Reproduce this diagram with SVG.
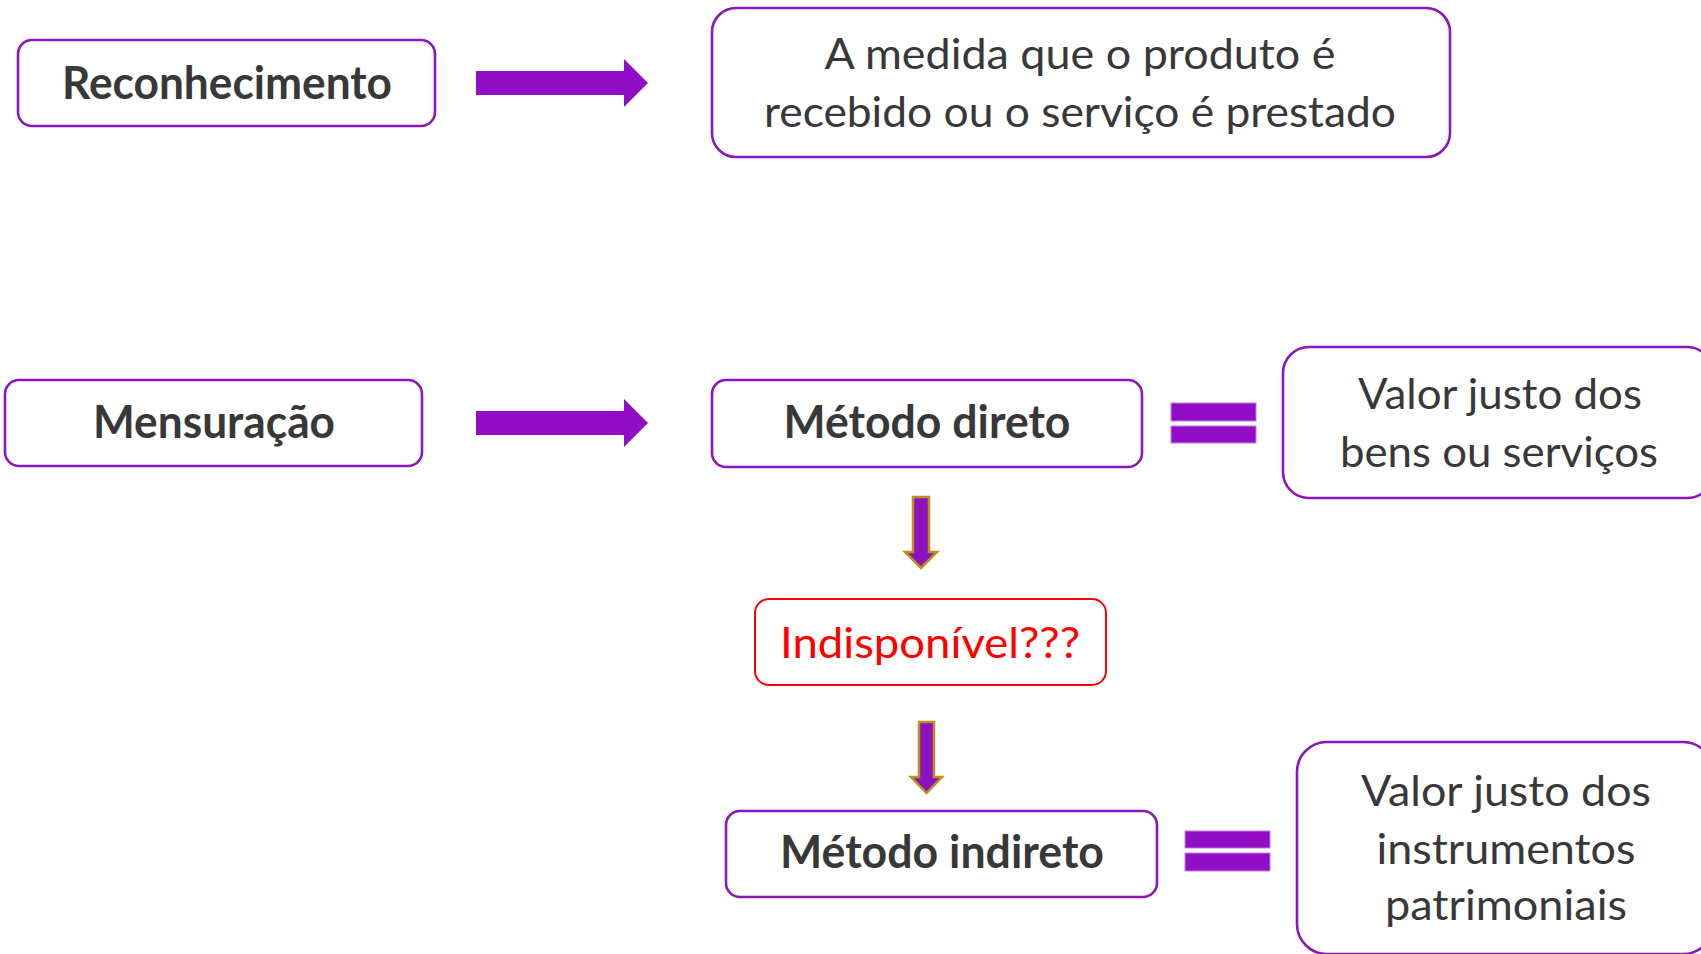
<svg xmlns="http://www.w3.org/2000/svg" width="1701" height="954" viewBox="0 0 1701 954">
<defs>
<style>
.box{fill:#fff;stroke:#8A17B8;stroke-width:2.6}
.red{fill:#fff;stroke:#FF0000;stroke-width:2}
.t{font-family:Lato,"Liberation Sans",sans-serif;fill:#383838;text-anchor:middle}
.b{font-weight:bold;font-size:45px}
.r{font-size:42px}
.arr{fill:#920DC6}
.darr{fill:#8C12BE;stroke:#BF8F1A;stroke-width:2.5}
.eq{fill:#920DC6;stroke:#C07FE0;stroke-width:1}
</style>
</defs>
<g id="connectors">
<path class="arr" d="M476,71 H624 V59 L648,83 L624,107 V95 H476 Z"/>
<path class="arr" d="M476,411 H624 V399 L648,423 L624,447 V435 H476 Z"/>
<path class="darr" d="M913,497 H929 V552 H937 L921,568 L905,552 H913 Z"/>
<path class="darr" d="M919,722 H934 V777 H942 L926.5,793 L911,777 H919 Z"/>
<rect class="eq" x="1171" y="403" width="85" height="18"/>
<rect class="eq" x="1171" y="426" width="85" height="17"/>
<rect class="eq" x="1185" y="831" width="85" height="17"/>
<rect class="eq" x="1185" y="853" width="85" height="18"/>
</g>
<g id="reconhecimento">
<rect class="box" x="18" y="40" width="417" height="86" rx="14"/>
<text class="t b" x="227" y="99" textLength="330" lengthAdjust="spacingAndGlyphs">Reconhecimento</text>
</g>
<g id="medida">
<rect class="box" x="712" y="8" width="738" height="149" rx="24"/>
<text class="t r" x="1080" y="69" textLength="511" lengthAdjust="spacingAndGlyphs">A medida que o produto é</text>
<text class="t r" x="1080" y="127" textLength="632" lengthAdjust="spacingAndGlyphs">recebido ou o serviço é prestado</text>
</g>
<g id="mensuracao">
<rect class="box" x="5" y="380" width="417" height="86" rx="14"/>
<text class="t b" x="214" y="438" textLength="242" lengthAdjust="spacingAndGlyphs">Mensuração</text>
</g>
<g id="metodo-direto">
<rect class="box" x="712" y="380" width="430" height="87" rx="14"/>
<text class="t b" x="927" y="438" textLength="287" lengthAdjust="spacingAndGlyphs">Método direto</text>
</g>
<g id="valor-bens">
<rect class="box" x="1283" y="347" width="430" height="151" rx="26"/>
<text class="t r" x="1500" y="409" textLength="284" lengthAdjust="spacingAndGlyphs">Valor justo dos</text>
<text class="t r" x="1499" y="467" textLength="318" lengthAdjust="spacingAndGlyphs">bens ou serviços</text>
</g>
<g id="indisponivel">
<rect class="red" x="755" y="599" width="351" height="86" rx="14"/>
<text class="t r" x="930" y="658" textLength="300" lengthAdjust="spacingAndGlyphs" style="fill:#FF0000">Indisponível???</text>
</g>
<g id="metodo-indireto">
<rect class="box" x="726" y="811" width="431" height="86" rx="14"/>
<text class="t b" x="942" y="868" textLength="324" lengthAdjust="spacingAndGlyphs">Método indireto</text>
</g>
<g id="valor-instrumentos">
<rect class="box" x="1297" y="742" width="416" height="212" rx="30"/>
<text class="t r" x="1506" y="806" textLength="290" lengthAdjust="spacingAndGlyphs">Valor justo dos</text>
<text class="t r" x="1506" y="864" textLength="259" lengthAdjust="spacingAndGlyphs">instrumentos</text>
<text class="t r" x="1506" y="920" textLength="242" lengthAdjust="spacingAndGlyphs">patrimoniais</text>
</g>
</svg>
